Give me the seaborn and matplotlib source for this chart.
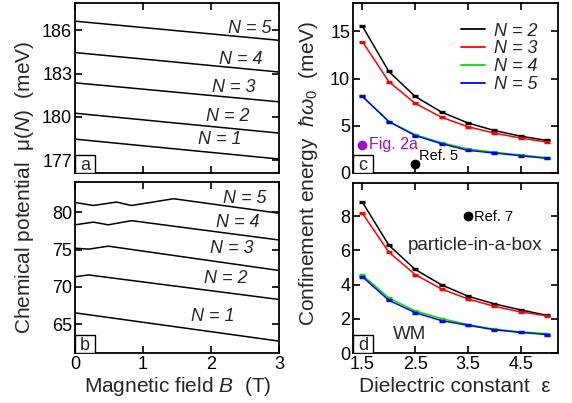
import numpy as np
import pandas as pd
import matplotlib
matplotlib.use("Agg")
import matplotlib.pyplot as plt
import seaborn as sns
from matplotlib.patches import Rectangle

sns.set_theme(style="ticks")
plt.rcParams["font.family"] = ["Liberation Sans", "DejaVu Sans"]
plt.rcParams["mathtext.fontset"] = "custom"
plt.rcParams["mathtext.rm"] = "Liberation Sans"
plt.rcParams["mathtext.it"] = "Liberation Sans:italic"
plt.rcParams["mathtext.bf"] = "Liberation Sans:bold"

# ---------------- data ----------------
# panel a: chemical potential (meV) vs B (T), large confinement
a_B = [0.0, 3.0]
a_N1 = [178.45, 177.07]
a_N2 = [180.25, 178.87]
a_N3 = [182.36, 181.04]
a_N4 = [184.46, 183.11]
a_N5 = [186.64, 185.31]

# panel b: chemical potential (meV) vs B (T), small confinement
b_B_N1 = [0.0, 3.0]
b_N1 = [66.5, 62.7]
b_B_N2 = [0.0, 0.2, 3.0]
b_N2 = [71.35, 71.6, 68.3]
b_B_N3 = [0.0, 0.2, 0.49, 3.0]
b_N3 = [75.2, 75.07, 75.47, 72.2]
b_B_N4 = [0.0, 0.27, 0.49, 0.83, 3.0]
b_N4 = [78.34, 78.7, 78.34, 78.9, 76.3]
b_B_N5 = [0.0, 0.27, 0.61, 0.83, 1.45, 3.0]
b_N5 = [81.35, 80.94, 81.4, 80.94, 81.85, 79.9]

# panels c, d: confinement energy (meV) vs dielectric constant
eps = [1.5, 2.0, 2.5, 3.0, 3.5, 4.0, 4.5, 5.0]
c_N2 = [15.53, 10.75, 8.1, 6.45, 5.3, 4.5, 3.9, 3.45]
c_N3 = [13.9, 9.67, 7.37, 5.9, 4.9, 4.23, 3.7, 3.28]
c_N4 = [8.1, 5.45, 4.05, 3.2, 2.55, 2.2, 1.9, 1.62]
c_N5 = [8.1, 5.45, 3.97, 3.1, 2.4, 2.12, 1.83, 1.55]
d_N2 = [8.8, 6.3, 4.88, 3.98, 3.32, 2.87, 2.52, 2.2]
d_N3 = [8.15, 5.89, 4.58, 3.74, 3.16, 2.73, 2.4, 2.17]
d_N4 = [4.55, 3.22, 2.46, 2.01, 1.66, 1.39, 1.23, 1.13]
d_N5 = [4.45, 3.08, 2.36, 1.89, 1.62, 1.36, 1.2, 1.08]

# reference points
fig2a_pt = (1.5, 3.0)
ref5_pt = (2.5, 1.0)
ref7_pt = (3.5, 8.0)

series_names = ["N = 2", "N = 3", "N = 4", "N = 5"]
series_colors = ["#000000", "#ff0000", "#00e000", "#0000ff"]

# ---------------- figure ----------------
fig = plt.figure(figsize=(5.72, 4.03), dpi=100)
W, H = 572, 403


def add_ax(x0, y0, x1, y1):
    return fig.add_axes([x0 / W, 1 - y1 / H, (x1 - x0) / W, (y1 - y0) / H])


ax_a = add_ax(75, 3, 279, 173)
ax_b = add_ax(75, 182, 279, 353)
ax_c = add_ax(353, 3, 558, 173)
ax_d = add_ax(353, 183, 558, 353)

TICK = 13
LAB = 15

for ax in (ax_a, ax_b, ax_c, ax_d):
    for s in ax.spines.values():
        s.set_linewidth(1.3)
        s.set_color("black")
    ax.tick_params(direction="in", length=5, width=1.2, top=True, right=True,
                   labelsize=TICK, colors="black", pad=2)


def panel_tag(ax, letter):
    ax.add_patch(Rectangle((0, 0), 0.098, 0.106, transform=ax.transAxes,
                           fc="white", ec="black", lw=1.0, zorder=5))
    ax.text(0.049, 0.045, letter, transform=ax.transAxes, ha="center",
            va="center", fontsize=13, zorder=6)


# ---- panel a ----
a_series = [a_N1, a_N2, a_N3, a_N4, a_N5]
df_a = pd.concat([pd.DataFrame({"B": a_B, "mu": v, "N": i + 1})
                  for i, v in enumerate(a_series)])
sns.lineplot(data=df_a, x="B", y="mu", units="N", estimator=None,
             color="black", lw=1.1, ax=ax_a)
ax_a.set_xlim(0, 3)
ax_a.set_ylim(176.1, 187.9)
ax_a.set_yticks([177, 180, 183, 186])
ax_a.set_xticks([0, 1, 2, 3])
ax_a.set_xticklabels([])
ax_a.set_xlabel("")
ax_a.set_ylabel("")
a_lab_pos = [(2.13, 178.4), (2.24, 180.0), (2.34, 182.0), (2.44, 184.0), (2.57, 186.14)]
for i, (x, y) in enumerate(a_lab_pos):
    ax_a.text(x, y, f"N = {i + 1}", fontsize=13, style="italic",
              ha="center", va="center")
panel_tag(ax_a, "a")

# ---- panel b ----
b_series = [(b_B_N1, b_N1), (b_B_N2, b_N2), (b_B_N3, b_N3),
            (b_B_N4, b_N4), (b_B_N5, b_N5)]
df_b = pd.concat([pd.DataFrame({"B": bb, "mu": v, "N": i + 1})
                  for i, (bb, v) in enumerate(b_series)])
sns.lineplot(data=df_b, x="B", y="mu", units="N", estimator=None,
             color="black", lw=1.1, ax=ax_b)
ax_b.set_xlim(0, 3)
ax_b.set_ylim(61.1, 84.1)
ax_b.set_yticks([65, 70, 75, 80])
ax_b.set_xticks([0, 1, 2, 3])
ax_b.set_xlabel("")
ax_b.set_ylabel("")
b_lab_pos = [(2.03, 66.0), (2.22, 71.16), (2.31, 75.2), (2.40, 78.65), (2.49, 81.94)]
for i, (x, y) in enumerate(b_lab_pos):
    ax_b.text(x, y, f"N = {i + 1}", fontsize=13, style="italic",
              ha="center", va="center")
panel_tag(ax_b, "b")


# ---- panels c, d ----
def energy_panel(ax, series):
    df = pd.concat([pd.DataFrame({"eps": eps, "E": v, "N": name})
                    for name, v in zip(series_names, series)])
    sns.lineplot(data=df, x="eps", y="E", hue="N", palette=series_colors,
                 marker="_", markersize=5, markeredgewidth=2.4, lw=1.1,
                 ax=ax, legend=True)
    for ln in ax.lines:
        ln.set_markeredgecolor(ln.get_color())
        ln.set_markerfacecolor(ln.get_color())
    ax.set_xlim(1.32, 5.21)
    ax.set_xticks([1.5, 2.5, 3.5, 4.5])
    ax.set_xlabel("")
    ax.set_ylabel("")


energy_panel(ax_c, [c_N2, c_N3, c_N4, c_N5])
ax_c.set_ylim(0, 18)
ax_c.set_yticks([0, 5, 10, 15])
ax_c.set_xticklabels([])
handles, labels = ax_c.get_legend_handles_labels()
for h in handles:
    h.set_marker("")
    h.set_linewidth(1.3)
ax_c.legend(handles, labels, loc="upper right", bbox_to_anchor=(0.9, 0.885),
            frameon=False, prop={"style": "italic", "size": 13},
            handlelength=1.3, handletextpad=0.5, labelspacing=0.05,
            borderpad=0, borderaxespad=0)
ax_c.plot(*fig2a_pt, "o", color="#9a10d0", ms=6, zorder=6)
ax_c.text(1.63, 3.0, "Fig. 2a", color="#9a10d0", fontsize=11.5, va="center")
ax_c.plot(*ref5_pt, "o", color="black", ms=6, zorder=6, clip_on=False)
ax_c.text(2.58, 1.8, "Ref. 5", color="black", fontsize=10.5, va="center")
panel_tag(ax_c, "c")

energy_panel(ax_d, [d_N2, d_N3, d_N4, d_N5])
ax_d.get_legend().remove()
ax_d.set_ylim(0, 9.93)
ax_d.set_yticks([0, 2, 4, 6, 8])
ax_d.plot(*ref7_pt, "o", color="black", ms=6, zorder=6)
ax_d.text(3.61, 7.96, "Ref. 7", color="black", fontsize=10.5, va="center")
ax_d.text(3.63, 6.3, "particle-in-a-box", fontsize=13.5, ha="center", va="center")
ax_d.text(2.4, 1.1, "WM", fontsize=13.5, ha="center", va="center")
panel_tag(ax_d, "d")

# ---- axis labels ----
fig.text(25 / W, 1 - 187 / H, "Chemical potential  μ($N$)  (meV)", rotation=90,
         ha="center", va="center", fontsize=LAB)
fig.text(308 / W, 1 - 173 / H, "Confinement energy  $ħω_0$  (meV)", rotation=90,
         ha="center", va="center", fontsize=LAB)
fig.text(178 / W, 1 - 392 / H, "Magnetic field $B$  (T)", ha="center",
         va="baseline", fontsize=LAB)
fig.text(455 / W, 1 - 392 / H, "Dielectric constant  ε", ha="center",
         va="baseline", fontsize=LAB)

fig.savefig("out.png", dpi=100, facecolor="white")
